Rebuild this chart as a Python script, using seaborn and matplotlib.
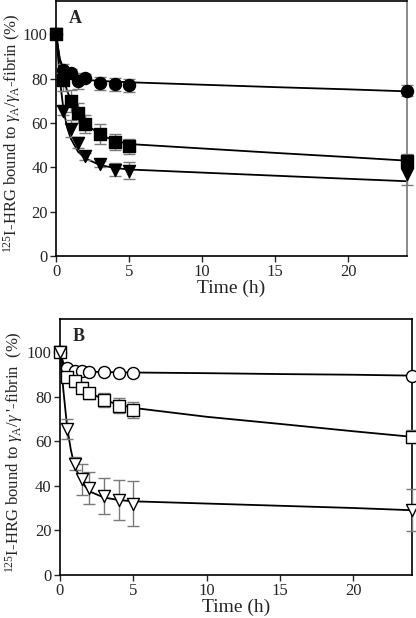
import numpy as np
import matplotlib
matplotlib.use("Agg")
import matplotlib.pyplot as plt
import seaborn as sns

sns.set_style("ticks")
plt.rcParams['font.family'] = ['Liberation Serif', 'DejaVu Serif']
plt.rcParams['mathtext.fontset'] = 'custom'
plt.rcParams['mathtext.rm'] = 'Liberation Serif'
plt.rcParams['mathtext.it'] = 'Liberation Serif:italic'
plt.rcParams['mathtext.bf'] = 'Liberation Serif:bold'

# sampling times (h)
time = [0, 0.5, 1, 1.5, 2, 3, 4, 5, 24]

# panel A (filled symbols)
a_circle = [100, 84, 82.5, 79, 80.5, 78, 77.5, 77, 74.5]
a_circle_err = [0, 2.5, 2, 3.5, 1.5, 3, 3, 3, 2.5]
a_square = [100, 79.5, 70, 64.5, 59.5, 55, 51.5, 49.5, 43]
a_square_err = [0, 5, 5, 4.5, 4, 4.5, 3.5, 3.5, 3]
a_tri = [100, 65.5, 57.5, 51, 45, 41.5, 39, 38.5, 37]
a_tri_err = [0, 2, 4, 2.5, 1.5, 1.5, 3, 4, 5]

# panel B (open symbols)
b_circle = [100, 93, 91.5, 91.5, 91, 91, 90.5, 90.5, 89.5]
b_circle_err = [0, 0.5, 0.5, 0.5, 0.5, 0.5, 0.5, 0.5, 0.5]
b_square = [100, 89, 87, 84, 81.5, 78.5, 76, 74, 62]
b_square_err = [0, 1.5, 2, 2.5, 2.5, 3, 3.5, 3.5, 3]
b_tri = [100, 65.5, 50, 43, 39, 35.5, 33.5, 32, 29]
b_tri_err = [0, 4.5, 3, 7, 7, 8, 9, 10, 9.5]

# fitted curves
fit_t = [0, 0.25, 0.5, 0.75, 1, 1.5, 2, 3, 4, 5, 10, 15, 20, 24]
a_circle_fit = [100, 89, 84.5, 82.3, 81.2, 80.1, 79.5, 79, 78.7, 78.4, 77.3, 76.2, 75.2, 74.3]
a_square_fit = [100, 88, 80, 74.5, 70.5, 64.3, 59.8, 54.7, 52, 50.5, 48.5, 46.5, 44.6, 43]
a_tri_fit = [100, 80, 66, 58, 53, 47, 44, 41, 39.7, 39, 37.6, 36.2, 34.8, 33.7]
b_circle_fit = [100, 95, 93, 92.4, 92, 91.6, 91.3, 91.1, 91, 90.9, 90.6, 90.2, 89.9, 89.5]
b_square_fit = [100, 93, 89.5, 88, 87, 84.2, 82, 78.6, 76.4, 75, 71, 67.8, 64.5, 62]
b_tri_fit = [100, 82, 66, 56, 49, 41.5, 37.5, 34.7, 33.6, 33, 32, 31, 30, 29]

fig = plt.figure(figsize=(4.16, 6.18), dpi=100)
axA = fig.add_axes([0.135, 0.586, 0.843, 0.412])
axB = fig.add_axes([0.144, 0.070, 0.846, 0.414])


def draw(ax, series, filled):
    for y, err, fit, mk in series:
        sns.lineplot(x=fit_t, y=fit, ax=ax, color='black', lw=1.3, zorder=2)
        ax.errorbar(time, y, yerr=err, fmt='none', ecolor='#7a7a7a', elinewidth=1.0,
                    capsize=4, capthick=1.0, zorder=3, clip_on=False)
        sns.scatterplot(x=time, y=y, ax=ax, marker=mk, s=75,
                        color='black' if filled else 'white', edgecolor='black',
                        linewidth=1.0, zorder=4, clip_on=False)


draw(axA, [(a_circle, a_circle_err, a_circle_fit, 'o'),
           (a_square, a_square_err, a_square_fit, 's'),
           (a_tri, a_tri_err, a_tri_fit, 'v')], True)
draw(axB, [(b_circle, b_circle_err, b_circle_fit, 'o'),
           (b_square, b_square_err, b_square_fit, 's'),
           (b_tri, b_tri_err, b_tri_fit, 'v')], False)

ylabels = [r'$^{125}$I-HRG bound to $\gamma_{\mathrm{A}}/\gamma_{\mathrm{A}}$-fibrin (%)',
           r"$^{125}$I-HRG bound to $\gamma_{\mathrm{A}}/\gamma$ '-fibrin  (%)"]
for ax, lab, yl, lx in [(axA, 'A', ylabels[0], -0.095), (axB, 'B', ylabels[1], -0.10)]:
    ax.set_xlim(0, 24)
    ax.set_ylim(0, 115)
    ax.set_xticks([0, 5, 10, 15, 20])
    ax.set_yticks([0, 20, 40, 60, 80, 100])
    ax.tick_params(labelsize=12, direction='out', length=4, width=1, pad=2)
    ax.set_xlabel('Time (h)', fontsize=14, labelpad=0)
    ax.set_ylabel(yl, fontsize=12)
    ax.yaxis.set_label_coords(lx, 0.48)
    for s in ax.spines.values():
        s.set_linewidth(1.2)
        s.set_color('black')
    ax.text(0.035, 0.965, lab, transform=ax.transAxes, fontsize=13,
            fontweight='bold', va='top', ha='left')
axA.spines['right'].set_color('#777777')

fig.savefig('out.png', dpi=100)
